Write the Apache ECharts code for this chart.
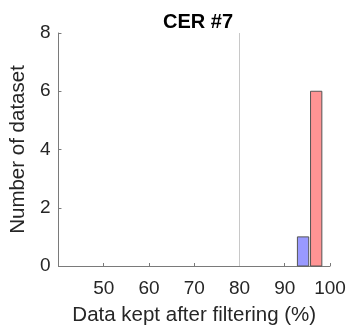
<!DOCTYPE html>
<html>
<head>
<meta charset="utf-8">
<script src="https://cdn.jsdelivr.net/npm/echarts@6/dist/echarts.min.js"></script>
<style>
html,body{margin:0;padding:0;background:#fff;}
#c{width:349px;height:333px;}
</style>
</head>
<body>
<div id="c"></div>
<script>
var title = 'CER #7';
var xLabel = 'Data kept after filtering (%)';
var yLabel = 'Number of dataset';
var binStart = [92.8, 95.7];
var binEnd = [95.3, 98.2];
var counts = [1, 6];
var barColors = ['#9999ff', '#ff9494'];
var refLineX = 80;
var xMin = 40, xMax = 100, xStep = 10;
var yMin = 0, yMax = 8, yStep = 2;

var FONT = '"Liberation Sans", Arial, Helvetica, sans-serif';
var data = binStart.map(function (s, i) { return [s, binEnd[i], counts[i], i]; });

var chart = echarts.init(document.getElementById('c'), null, {renderer: 'canvas'});
chart.setOption({
  animation: false,
  title: {
    text: title, left: 193, top: 7, textAlign: 'center',
    textStyle: {fontFamily: FONT, fontSize: 20, fontWeight: 'bold', color: '#000'}
  },
  grid: {left: 57, right: 19, top: 33, bottom: 67},
  xAxis: {
    type: 'value', min: xMin, max: xMax, interval: xStep,
    name: xLabel, nameLocation: 'middle', nameGap: 39,
    nameTextStyle: {fontFamily: FONT, fontSize: 20.5, color: '#262626'},
    axisLine: {show: true, onZero: false, lineStyle: {color: '#7a7a7a', width: 1}},
    axisTick: {show: true, inside: true, length: 3, lineStyle: {color: '#7a7a7a'}},
    axisLabel: {showMinLabel: false, fontFamily: FONT, fontSize: 19, color: '#262626', margin: 13},
    splitLine: {show: false}
  },
  yAxis: {
    type: 'value', min: yMin, max: yMax, interval: yStep,
    name: yLabel, nameLocation: 'middle', nameGap: 23,
    nameTextStyle: {fontFamily: FONT, fontSize: 20.5, color: '#262626'},
    axisLine: {show: true, lineStyle: {color: '#7a7a7a', width: 1}},
    axisTick: {show: true, inside: true, length: 3, lineStyle: {color: '#7a7a7a'}},
    axisLabel: {fontFamily: FONT, fontSize: 19, color: '#262626', margin: 8},
    splitLine: {show: false}
  },
  series: [{
    type: 'custom',
    data: data,
    encode: {x: [0, 1], y: 2},
    renderItem: function (params, api) {
      var p0 = api.coord([api.value(0), 0]);
      var p1 = api.coord([api.value(1), api.value(2)]);
      return {
        type: 'rect',
        shape: {x: p0[0], y: p1[1], width: p1[0] - p0[0], height: p0[1] - p1[1]},
        style: {fill: barColors[api.value(3)], stroke: '#555', lineWidth: 1}
      };
    },
    markLine: {
      silent: true, symbol: 'none',
      label: {show: false},
      lineStyle: {color: '#c8c8c8', type: 'solid', width: 1},
      data: [{xAxis: refLineX}]
    },
    z: 3
  }]
});
</script>
</body>
</html>
